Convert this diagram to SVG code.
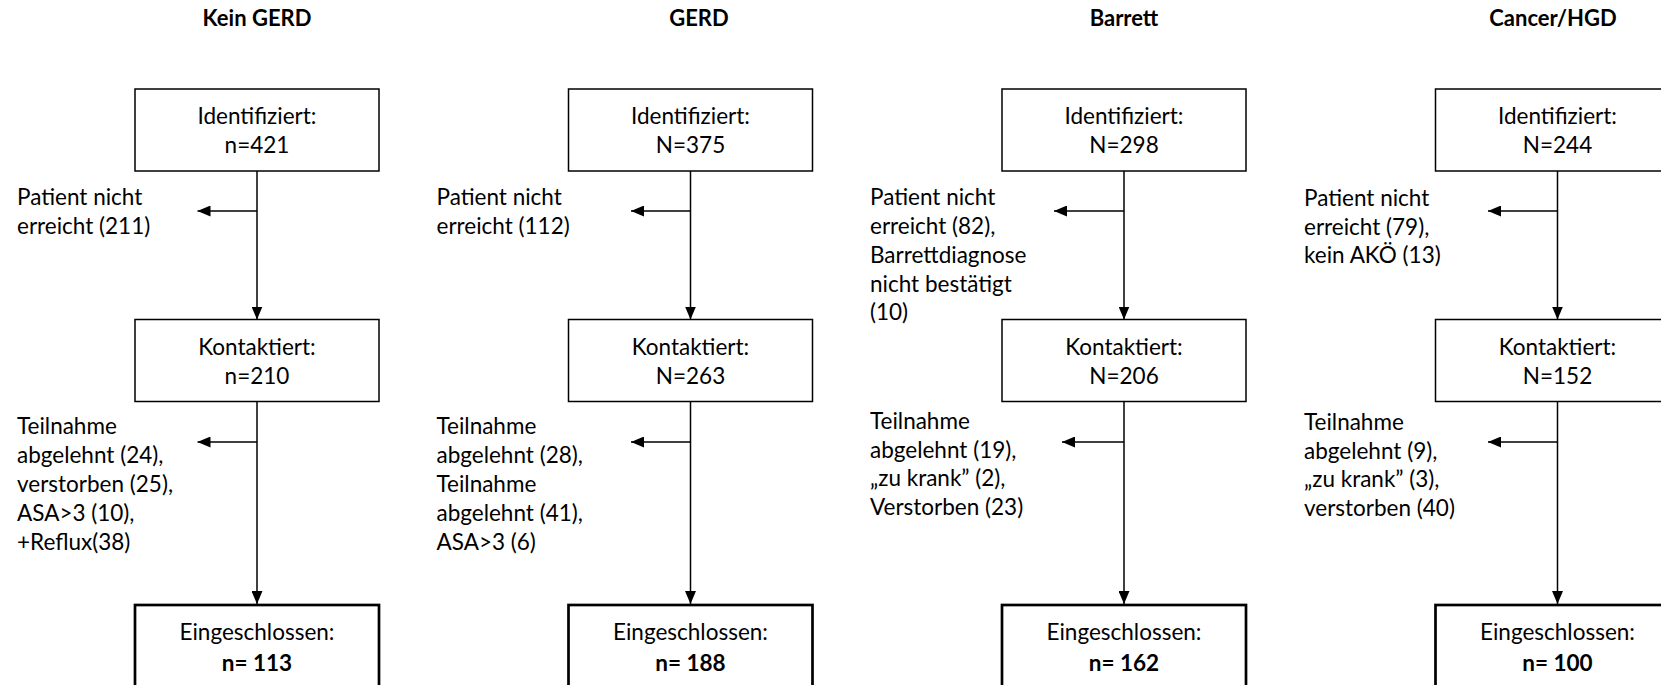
<svg xmlns="http://www.w3.org/2000/svg" width="1661" height="685" viewBox="0 0 1661 685">
<style>
text{font-family:Lato,"Liberation Sans",sans-serif;font-size:22.5px;fill:#000}
.t{font-weight:bold;text-anchor:middle;font-size:22px}
.c{text-anchor:middle}
.b{font-weight:bold}
.box{fill:#fff;stroke:#000;stroke-width:1.5}
.fin{fill:#fff;stroke:#000;stroke-width:2.7}
.ln{stroke:#000;stroke-width:1.5;fill:none;marker-end:url(#ah)}
</style>
<defs>
<marker id="ah" markerUnits="userSpaceOnUse" markerWidth="13" markerHeight="11" refX="13" refY="5.5" orient="auto">
<path d="M0,0 L13,5.5 L0,11 z" fill="#000"/>
</marker>
</defs>
<g id="titles">
<text class="t" x="257" y="26">Kein GERD</text>
<text class="t" x="699" y="26">GERD</text>
<text class="t" x="1124" y="26">Barrett</text>
<text class="t" x="1553" y="26">Cancer/HGD</text>
</g>
<g id="connectors">
<line class="ln" x1="257" y1="171" x2="257" y2="319.5"/>
<line class="ln" x1="257" y1="211" x2="197.5" y2="211"/>
<line class="ln" x1="257" y1="401.5" x2="257" y2="604"/>
<line class="ln" x1="257" y1="442" x2="197.5" y2="442"/>
<line class="ln" x1="690.5" y1="171" x2="690.5" y2="319.5"/>
<line class="ln" x1="690.5" y1="211" x2="631" y2="211"/>
<line class="ln" x1="690.5" y1="401.5" x2="690.5" y2="604"/>
<line class="ln" x1="690.5" y1="442" x2="631" y2="442"/>
<line class="ln" x1="1124" y1="171" x2="1124" y2="319.5"/>
<line class="ln" x1="1124" y1="211" x2="1054" y2="211"/>
<line class="ln" x1="1124" y1="401.5" x2="1124" y2="604"/>
<line class="ln" x1="1124" y1="442" x2="1062" y2="442"/>
<line class="ln" x1="1557.5" y1="171" x2="1557.5" y2="319.5"/>
<line class="ln" x1="1557.5" y1="211" x2="1488" y2="211"/>
<line class="ln" x1="1557.5" y1="401.5" x2="1557.5" y2="604"/>
<line class="ln" x1="1557.5" y1="442" x2="1488" y2="442"/>
</g>
<g id="kein-identifiziert"><rect class="box" x="135" y="89" width="244" height="82"/><text class="c" x="257" y="124">Identifiziert:</text><text class="c" x="257" y="153">n=421</text></g>
<g id="kein-kontaktiert"><rect class="box" x="135" y="319.5" width="244" height="82"/><text class="c" x="257" y="354.5">Kontaktiert:</text><text class="c" x="257" y="383.5">n=210</text></g>
<g id="kein-eingeschlossen"><rect class="fin" x="135" y="605" width="244" height="100"/><text class="c" x="257" y="639.5">Eingeschlossen:</text><text class="c b" x="257" y="671">n= 113</text></g>
<g id="kein-excl1"><text x="17" y="205">Patient nicht</text><text x="17" y="233.5">erreicht (211)</text></g>
<g id="kein-excl2"><text x="17" y="434">Teilnahme</text><text x="17" y="463">abgelehnt (24),</text><text x="17" y="492">verstorben (25),</text><text x="17" y="521">ASA&gt;3 (10),</text><text x="17" y="550">+Reflux(38)</text></g>

<g id="gerd-identifiziert"><rect class="box" x="568.5" y="89" width="244" height="82"/><text class="c" x="690.5" y="124">Identifiziert:</text><text class="c" x="690.5" y="153">N=375</text></g>
<g id="gerd-kontaktiert"><rect class="box" x="568.5" y="319.5" width="244" height="82"/><text class="c" x="690.5" y="354.5">Kontaktiert:</text><text class="c" x="690.5" y="383.5">N=263</text></g>
<g id="gerd-eingeschlossen"><rect class="fin" x="568.5" y="605" width="244" height="100"/><text class="c" x="690.5" y="639.5">Eingeschlossen:</text><text class="c b" x="690.5" y="671">n= 188</text></g>
<g id="gerd-excl1"><text x="436.5" y="205">Patient nicht</text><text x="436.5" y="233.5">erreicht (112)</text></g>
<g id="gerd-excl2"><text x="436.5" y="434">Teilnahme</text><text x="436.5" y="463">abgelehnt (28),</text><text x="436.5" y="492">Teilnahme</text><text x="436.5" y="521">abgelehnt (41),</text><text x="436.5" y="550">ASA&gt;3 (6)</text></g>

<g id="barrett-identifiziert"><rect class="box" x="1002" y="89" width="244" height="82"/><text class="c" x="1124" y="124">Identifiziert:</text><text class="c" x="1124" y="153">N=298</text></g>
<g id="barrett-kontaktiert"><rect class="box" x="1002" y="319.5" width="244" height="82"/><text class="c" x="1124" y="354.5">Kontaktiert:</text><text class="c" x="1124" y="383.5">N=206</text></g>
<g id="barrett-eingeschlossen"><rect class="fin" x="1002" y="605" width="244" height="100"/><text class="c" x="1124" y="639.5">Eingeschlossen:</text><text class="c b" x="1124" y="671">n= 162</text></g>
<g id="barrett-excl1"><text x="870" y="205">Patient nicht</text><text x="870" y="234">erreicht (82),</text><text x="870" y="263">Barrettdiagnose</text><text x="870" y="292">nicht bestätigt</text><text x="870" y="320">(10)</text></g>
<g id="barrett-excl2"><text x="870" y="429">Teilnahme</text><text x="870" y="457.5">abgelehnt (19),</text><text x="870" y="486">„zu krank” (2),</text><text x="870" y="514.5">Verstorben (23)</text></g>

<g id="cancer-identifiziert"><rect class="box" x="1435.5" y="89" width="244" height="82"/><text class="c" x="1557.5" y="124">Identifiziert:</text><text class="c" x="1557.5" y="153">N=244</text></g>
<g id="cancer-kontaktiert"><rect class="box" x="1435.5" y="319.5" width="244" height="82"/><text class="c" x="1557.5" y="354.5">Kontaktiert:</text><text class="c" x="1557.5" y="383.5">N=152</text></g>
<g id="cancer-eingeschlossen"><rect class="fin" x="1435.5" y="605" width="244" height="100"/><text class="c" x="1557.5" y="639.5">Eingeschlossen:</text><text class="c b" x="1557.5" y="671">n= 100</text></g>
<g id="cancer-excl1"><text x="1304" y="206">Patient nicht</text><text x="1304" y="234.5">erreicht (79),</text><text x="1304" y="263">kein AKÖ (13)</text></g>
<g id="cancer-excl2"><text x="1304" y="430">Teilnahme</text><text x="1304" y="458.5">abgelehnt (9),</text><text x="1304" y="487">„zu krank” (3),</text><text x="1304" y="515.5">verstorben (40)</text></g>
</svg>
